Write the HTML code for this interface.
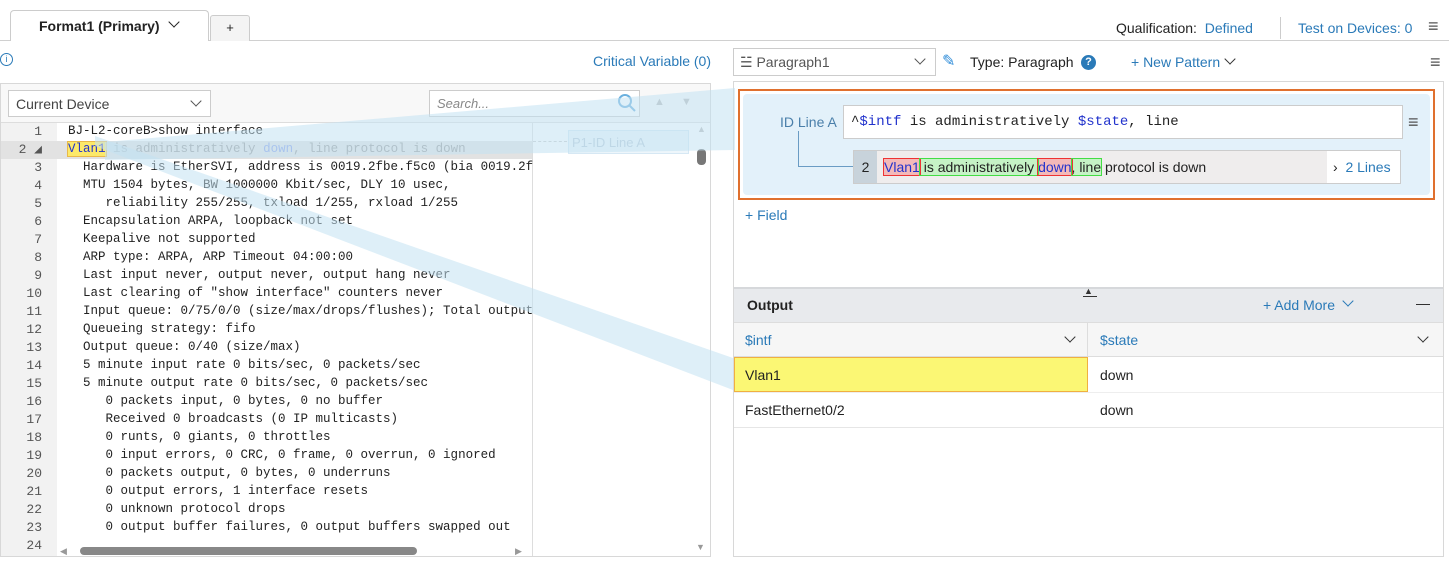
<!DOCTYPE html>
<html><head><meta charset="utf-8"><style>
*{box-sizing:border-box;margin:0;padding:0}
body{width:1449px;height:565px;position:relative;background:#fff;font-family:"Liberation Sans",sans-serif;font-size:14px;color:#222;overflow:hidden}
.a{position:absolute;white-space:nowrap}
.blue{color:#2a7ab8}
.mono{font-family:"Liberation Mono",monospace;font-size:12.5px}
.ln{position:absolute;left:0;width:42px;text-align:right;color:#555;font-size:13px}
.cl{position:absolute;left:68px;color:#222;white-space:pre}
.chev{position:absolute;width:8px;height:8px;border-right:1.6px solid #333;border-bottom:1.6px solid #333;transform:rotate(45deg)}
</style></head><body>
<!-- tabs -->
<div class="a" style="left:0;top:40px;width:1449px;height:1px;background:#d0d0d0"></div>
<div class="a" style="left:10px;top:10px;width:199px;height:31px;border:1px solid #ccc;border-bottom:none;border-radius:4px 4px 0 0;background:#fff"></div>
<div class="a" style="left:39px;top:18px;font-size:14px;font-weight:bold;color:#222">Format1 (Primary)</div>
<div class="chev" style="left:170px;top:18px;border-color:#222"></div>
<div class="a" style="left:210px;top:15px;width:40px;height:26px;border:1px solid #ccc;border-bottom:none;border-radius:3px 3px 0 0;background:#f4f4f4;text-align:center;line-height:24px;font-size:13px">+</div>
<div class="a" style="left:1116px;top:20px">Qualification: <span class="blue">&nbsp;Defined</span></div>
<div class="a" style="left:1280px;top:17px;width:1px;height:22px;background:#ccc"></div>
<div class="a blue" style="left:1298px;top:20px">Test on Devices: 0</div>
<div class="a" style="left:1428px;top:16px;font-size:18px;color:#555">&#8801;</div>
<div class="a" style="left:0;top:53px;width:13px;height:13px;border:1px solid #2a7ab8;border-radius:50%;font-size:9px;text-align:center;line-height:11px;color:#2a7ab8">i</div>
<div class="a blue" style="left:593px;top:53px">Critical Variable (0)</div>
<!-- left panel -->
<div class="a" style="left:0;top:83px;width:711px;height:474px;border:1px solid #d8d8d8;background:#fff"></div>
<div class="a" style="left:1px;top:84px;width:709px;height:39px;background:#f8f8f8;border-bottom:1px solid #ddd"></div>
<div class="a" style="left:8px;top:90px;width:203px;height:27px;border:1px solid #ccc;background:#fff"></div>
<div class="a" style="left:16px;top:96px;color:#444">Current Device</div>
<div class="chev" style="left:192px;top:97px;border-color:#555"></div>
<div class="a" style="left:429px;top:90px;width:211px;height:27px;border:1px solid #ccc;background:#fff"></div>
<div class="a" style="left:437px;top:96px;color:#888;font-style:italic;font-size:13px">Search...</div>
<svg class="a" style="left:617px;top:93px" width="20" height="20"><circle cx="8" cy="8" r="6" fill="none" stroke="#6ab0de" stroke-width="2"/><line x1="12" y1="12" x2="18" y2="18" stroke="#6ab0de" stroke-width="2"/></svg>
<div class="a" style="left:654px;top:96px;color:#bbb;font-size:11px">&#9650;</div>
<div class="a" style="left:681px;top:96px;color:#bbb;font-size:11px">&#9660;</div>
<!-- gutter -->
<div class="a" style="left:1px;top:123px;width:56px;height:433px;background:#f2f2f2"></div>
<div class="a" style="left:1px;top:141px;width:531px;height:18px;background:#e2e2e2"></div>
<div class="a" style="left:532px;top:123px;width:1px;height:433px;background:#ddd"></div>
<div class="a" style="left:568px;top:130px;width:121px;height:24px;border:1px solid #d6e8f4;background:#eef6fb;color:#b8cad8;font-size:13px;padding:4px 0 0 3px">P1-ID Line A</div>
<div class="a" style="left:533px;top:141px;width:34px;border-top:1px dashed #ccc"></div>
<div class="a" style="left:697px;top:124px;color:#bbb;font-size:9px">&#9650;</div>
<div class="a" style="left:697px;top:149px;width:9px;height:16px;background:#777;border-radius:4px"></div>
<div class="a" style="left:696px;top:542px;color:#999;font-size:9px">&#9660;</div>
<div class="a" style="left:60px;top:546px;color:#999;font-size:9px">&#9664;</div>
<div class="a" style="left:80px;top:547px;width:337px;height:8px;background:#888;border-radius:4px"></div>
<div class="a" style="left:515px;top:546px;color:#999;font-size:9px">&#9654;</div>
<div class="mono">
<div class="ln" style="top:124px">1</div><div class="cl" style="top:124px">BJ-L2-coreB&gt;show interface</div>
<div class="ln" style="top:142px">2 &#9698;</div><div class="cl" style="top:142px"><span style="background:#fce96a;outline:1px solid #e9b949;color:#2233cc">Vlan1</span> <span style="color:#999">is administratively <span style="color:#8aa0e8">down</span>, line protocol is down</span></div>
<div class="ln" style="top:160px">3</div><div class="cl" style="top:160px">  Hardware is EtherSVI, address is 0019.2fbe.f5c0 (bia 0019.2f</div>
<div class="ln" style="top:178px">4</div><div class="cl" style="top:178px">  MTU 1504 bytes, BW 1000000 Kbit/sec, DLY 10 usec,</div>
<div class="ln" style="top:196px">5</div><div class="cl" style="top:196px">     reliability 255/255, txload 1/255, rxload 1/255</div>
<div class="ln" style="top:214px">6</div><div class="cl" style="top:214px">  Encapsulation ARPA, loopback not set</div>
<div class="ln" style="top:232px">7</div><div class="cl" style="top:232px">  Keepalive not supported</div>
<div class="ln" style="top:250px">8</div><div class="cl" style="top:250px">  ARP type: ARPA, ARP Timeout 04:00:00</div>
<div class="ln" style="top:268px">9</div><div class="cl" style="top:268px">  Last input never, output never, output hang never</div>
<div class="ln" style="top:286px">10</div><div class="cl" style="top:286px">  Last clearing of "show interface" counters never</div>
<div class="ln" style="top:304px">11</div><div class="cl" style="top:304px">  Input queue: 0/75/0/0 (size/max/drops/flushes); Total output</div>
<div class="ln" style="top:322px">12</div><div class="cl" style="top:322px">  Queueing strategy: fifo</div>
<div class="ln" style="top:340px">13</div><div class="cl" style="top:340px">  Output queue: 0/40 (size/max)</div>
<div class="ln" style="top:358px">14</div><div class="cl" style="top:358px">  5 minute input rate 0 bits/sec, 0 packets/sec</div>
<div class="ln" style="top:376px">15</div><div class="cl" style="top:376px">  5 minute output rate 0 bits/sec, 0 packets/sec</div>
<div class="ln" style="top:394px">16</div><div class="cl" style="top:394px">     0 packets input, 0 bytes, 0 no buffer</div>
<div class="ln" style="top:412px">17</div><div class="cl" style="top:412px">     Received 0 broadcasts (0 IP multicasts)</div>
<div class="ln" style="top:430px">18</div><div class="cl" style="top:430px">     0 runts, 0 giants, 0 throttles</div>
<div class="ln" style="top:448px">19</div><div class="cl" style="top:448px">     0 input errors, 0 CRC, 0 frame, 0 overrun, 0 ignored</div>
<div class="ln" style="top:466px">20</div><div class="cl" style="top:466px">     0 packets output, 0 bytes, 0 underruns</div>
<div class="ln" style="top:484px">21</div><div class="cl" style="top:484px">     0 output errors, 1 interface resets</div>
<div class="ln" style="top:502px">22</div><div class="cl" style="top:502px">     0 unknown protocol drops</div>
<div class="ln" style="top:520px">23</div><div class="cl" style="top:520px">     0 output buffer failures, 0 output buffers swapped out</div>
<div class="ln" style="top:538px">24</div>
</div>
<!-- right top -->
<div class="a" style="left:733px;top:48px;width:203px;height:28px;border:1px solid #ccc"></div>
<div class="a" style="left:740px;top:54px;color:#555">&#9777; Paragraph1</div>
<div class="chev" style="left:916px;top:55px;border-color:#555"></div>
<div class="a" style="left:942px;top:51px;color:#2a8ad8;font-size:16px">&#9998;</div>
<div class="a" style="left:970px;top:54px">Type: Paragraph</div>
<div class="a" style="left:1081px;top:55px;width:15px;height:15px;border-radius:50%;background:#2a7ab8;color:#fff;font-size:11px;font-weight:bold;text-align:center;line-height:15px">?</div>
<div class="a blue" style="left:1131px;top:54px">+ New Pattern</div>
<div class="chev" style="left:1226px;top:55px"></div>
<div class="a" style="left:1430px;top:52px;font-size:18px;color:#555">&#8801;</div>
<div class="a" style="left:733px;top:81px;width:711px;height:476px;border:1px solid #d8d8d8"></div>
<div class="a" style="left:738px;top:89px;width:697px;height:111px;border:2px solid #e0702e;background:#fff"></div>
<div class="a" style="left:743px;top:94px;width:687px;height:101px;background:#e3f1fa;border-radius:4px"></div>
<div class="a" style="left:780px;top:114px;color:#4a7faa">ID Line A</div>
<div class="a" style="left:843px;top:105px;width:560px;height:34px;border:1px solid #ccc;background:#fff"></div>
<div class="a mono" style="left:851px;top:114px;font-size:14px;white-space:pre">^<span style="color:#2233cc">$intf</span> is administratively <span style="color:#2233cc">$state</span>, line</div>
<div class="a" style="left:1408px;top:112px;font-size:18px;color:#555">&#8801;</div>
<div class="a" style="left:798px;top:131px;width:56px;height:36px;border-left:1px solid #6a9cc4;border-bottom:1px solid #6a9cc4"></div>
<div class="a" style="left:853px;top:150px;width:548px;height:34px;border:1px solid #ccc;background:#efeded"></div>
<div class="a" style="left:854px;top:151px;width:23px;height:32px;background:#c8d3db;text-align:center;line-height:32px">2</div>
<div class="a" style="left:1327px;top:151px;width:73px;height:32px;background:#fff"></div>
<div class="a" style="left:884px;top:159px;white-space:pre"><span style="background:#f3b9b9;outline:1px solid #e33;color:#2233cc">Vlan1</span><span style="background:#c6f2c6;outline:1px solid #4d4"> is administratively </span><span style="background:#f3b9b9;outline:1px solid #e33;color:#2233cc">down</span><span style="background:#c6f2c6;outline:1px solid #4d4">, line</span> protocol is down</div>
<div class="a" style="left:1333px;top:159px">&#8250; <span class="blue">&nbsp;2 Lines</span></div>
<div class="a blue" style="left:745px;top:207px">+ Field</div>
<!-- output -->
<div class="a" style="left:734px;top:287px;width:709px;height:35px;background:#e8eaed;border-top:2px solid #d6d8db"></div>
<div class="a" style="left:1084px;top:286px;font-size:9px;color:#333">&#9650;</div>
<div class="a" style="left:1083px;top:296px;width:14px;height:1px;background:#333"></div>
<div class="a" style="left:747px;top:297px;font-weight:bold">Output</div>
<div class="a blue" style="left:1263px;top:297px">+ Add More</div>
<div class="chev" style="left:1344px;top:297px;border-color:#2a7ab8"></div>
<div class="a" style="left:1416px;top:295px">&#8212;</div>
<div class="a" style="left:734px;top:322px;width:709px;height:35px;background:#f6f6f6;border-top:1px solid #ddd;border-bottom:1px solid #ddd"></div>
<div class="a" style="left:1087px;top:322px;width:1px;height:35px;background:#ddd"></div>
<div class="a blue" style="left:745px;top:332px">$intf</div>
<div class="chev" style="left:1066px;top:333px"></div>
<div class="a blue" style="left:1100px;top:332px">$state</div>
<div class="chev" style="left:1419px;top:333px"></div>
<div class="a" style="left:734px;top:357px;width:354px;height:35px;background:#fbf774;border:1px solid #f0b040"></div>
<div class="a" style="left:745px;top:367px">Vlan1</div>
<div class="a" style="left:1100px;top:367px">down</div>
<div class="a" style="left:734px;top:392px;width:709px;height:1px;background:#eee"></div>
<div class="a" style="left:745px;top:402px">FastEthernet0/2</div>
<div class="a" style="left:1100px;top:402px">down</div>
<div class="a" style="left:734px;top:427px;width:709px;height:1px;background:#e6e6e6"></div>
<!-- bands -->
<svg class="a" style="left:0;top:0" width="1449" height="565">
<polygon points="105,142 735,88 735,150 105,160" fill="rgb(195,225,242)" fill-opacity="0.55"/>
<polygon points="95,136 733,358 733,390 95,146" fill="rgb(195,225,242)" fill-opacity="0.55"/>
</svg>
</body></html>
